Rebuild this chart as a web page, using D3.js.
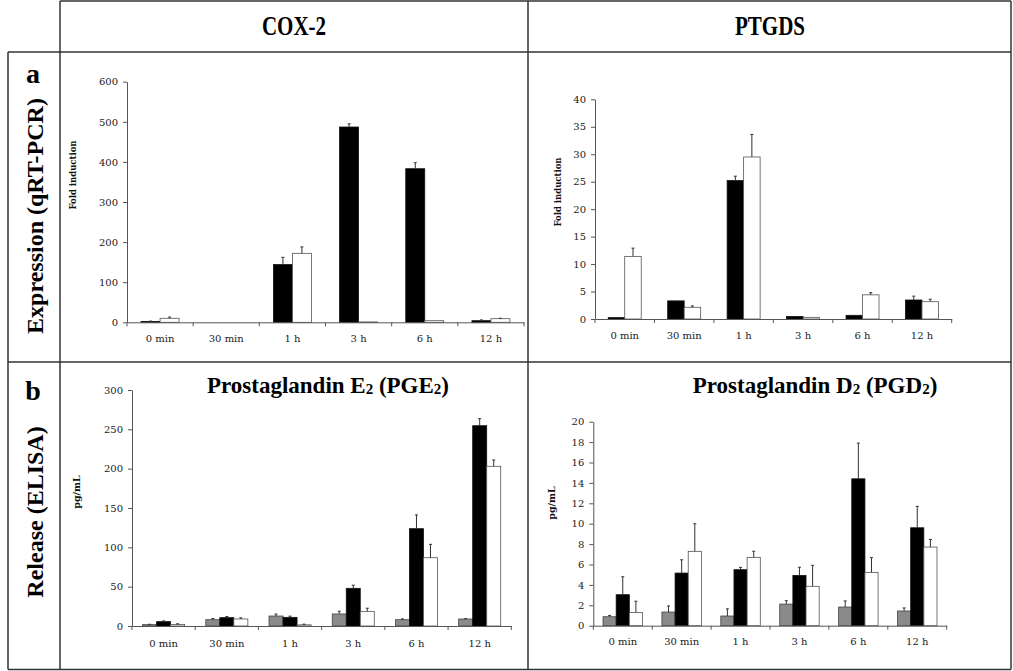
<!DOCTYPE html>
<html>
<head>
<meta charset="utf-8">
<script src="https://cdnjs.cloudflare.com/ajax/libs/d3/7.8.5/d3.min.js"></script>
<style>
  body { margin: 0; background: #fff; }
  svg { display: block; }
  .tick text { font-family: "DejaVu Serif", serif; font-size: 10px; fill: #222; }
  .big { font-family: "Liberation Serif", "Times New Roman", serif; font-weight: bold; fill: #000; }
</style>
</head>
<body>
<div id="chart"></div>
<script>
var categories = ["0 min", "30 min", "1 h", "3 h", "6 h", "12 h"];

// COX-2 qRT-PCR (fold induction)
var cox2Black = [2, 0, 144, 487, 383, 4];
var cox2BlackErr = [1, 0, 18, 8, 15, 2];
var cox2White = [10, 0, 172, 1, 4, 9];
var cox2WhiteErr = [3, 0, 16, 0, 0, 1];

// PTGDS qRT-PCR (fold induction)
var ptgdsBlack = [0.25, 3.3, 25.2, 0.45, 0.67, 3.46];
var ptgdsBlackErr = [0, 0, 0.8, 0, 0, 0.7];
var ptgdsWhite = [11.4, 2.13, 29.5, 0.3, 4.4, 3.15];
var ptgdsWhiteErr = [1.5, 0.25, 4.1, 0, 0.4, 0.45];

// PGE2 ELISA (pg/mL)
var pge2Gray = [1.7, 8, 12.7, 15.3, 8, 8.9];
var pge2GrayErr = [0.5, 1.5, 2.5, 3.5, 1, 0.5];
var pge2Black = [5.5, 10.6, 11, 47.9, 123.7, 254.6];
var pge2BlackErr = [1, 1.5, 1.5, 4, 17.5, 9];
var pge2White = [2, 8.9, 1.5, 18.6, 86.8, 203];
var pge2WhiteErr = [0.8, 1.5, 0.8, 4, 17, 8];

// PGD2 ELISA (pg/mL)
var pgd2Gray = [0.88, 1.34, 0.95, 2.12, 1.83, 1.44];
var pgd2GrayErr = [0.13, 0.6, 0.7, 0.33, 0.6, 0.3];
var pgd2Black = [3.04, 5.16, 5.49, 4.93, 14.4, 9.6];
var pgd2BlackErr = [1.76, 1.3, 0.23, 0.8, 3.5, 2.1];
var pgd2White = [1.3, 7.29, 6.7, 3.86, 5.23, 7.71];
var pgd2WhiteErr = [1.1, 2.7, 0.6, 2.06, 1.44, 0.75];

var width = 1013,
  height = 671;

var svg = d3.select("#chart")
  .append("svg")
  .attr("width", width)
  .attr("height", height);

var styles = {
  gray: { fill: "#8a8a8a", stroke: "#444" },
  black: { fill: "#000", stroke: "#111" },
  white: { fill: "#fff", stroke: "#555" }
};

// table frame
var frame = [
  [60, 1, 1011, 1],
  [8, 52, 1011, 52],
  [8, 362, 1011, 362],
  [8, 669.5, 1011, 669.5],
  [8, 52, 8, 669.5],
  [60, 1, 60, 669.5],
  [528, 1, 528, 669.5],
  [1011, 1, 1011, 669.5]
];
svg.append("g")
  .selectAll("line")
  .data(frame)
  .enter().append("line")
  .attr("x1", function(d) { return d[0]; })
  .attr("y1", function(d) { return d[1]; })
  .attr("x2", function(d) { return d[2]; })
  .attr("y2", function(d) { return d[3]; })
  .style("stroke", "#333")
  .style("stroke-width", 1.5);

// column headers (condensed look)
svg.append("text").attr("class", "big")
  .attr("transform", "translate(294,35) scale(0.75,1)")
  .attr("text-anchor", "middle")
  .style("font-size", "28px")
  .text("COX-2");
svg.append("text").attr("class", "big")
  .attr("transform", "translate(770,35) scale(0.75,1)")
  .attr("text-anchor", "middle")
  .style("font-size", "28px")
  .text("PTGDS");

// row labels
svg.append("text").attr("class", "big")
  .attr("x", 33).attr("y", 83)
  .attr("text-anchor", "middle")
  .style("font-size", "28px")
  .text("a");
svg.append("text").attr("class", "big")
  .attr("x", 33).attr("y", 400)
  .attr("text-anchor", "middle")
  .style("font-size", "28px")
  .text("b");
svg.append("text").attr("class", "big")
  .attr("transform", "translate(35,216) rotate(-90)")
  .attr("dy", "0.35em")
  .attr("text-anchor", "middle")
  .style("font-size", "24px")
  .text("Expression (qRT-PCR)");
svg.append("text").attr("class", "big")
  .attr("transform", "translate(35,512) rotate(-90)")
  .attr("dy", "0.35em")
  .attr("text-anchor", "middle")
  .style("font-size", "24px")
  .text("Release (ELISA)");

function drawTitle(cx, cy, main) {
  var t = svg.append("text").attr("class", "big")
    .attr("x", cx).attr("y", cy)
    .attr("text-anchor", "middle")
    .style("font-size", "23px");
  t.append("tspan").text("Prostaglandin " + main);
  t.append("tspan").style("font-size", "15px").attr("dy", 1).text("2");
  t.append("tspan").attr("dy", -1).text(" (PG" + main);
  t.append("tspan").style("font-size", "15px").attr("dy", 1).text("2");
  t.append("tspan").attr("dy", -1).text(")");
}

function drawPanel(cfg) {
  var g = svg.append("g");

  var x = d3.scaleBand()
    .domain(categories)
    .range([cfg.x0, cfg.x1])
    .paddingInner(cfg.pad)
    .paddingOuter(cfg.pad / 2);

  var xs = d3.scaleBand()
    .domain(d3.range(cfg.series.length))
    .range([0, x.bandwidth()]);

  var y = d3.scaleLinear()
    .domain([0, cfg.max])
    .range([cfg.y0, cfg.yTop]);

  // y axis
  var yAxis = g.append("g")
    .attr("transform", "translate(" + cfg.x0 + ",0)")
    .call(d3.axisLeft(y)
      .tickValues(d3.range(0, cfg.max + cfg.step / 2, cfg.step))
      .tickSize(4)
      .tickPadding(5)
      .tickSizeOuter(0));
  yAxis.selectAll("line, path").style("stroke", "#555");

  // bars + error bars
  cfg.series.forEach(function(s, si) {
    var rows = categories.map(function(c, i) {
      return { cat: c, value: s.values[i], err: s.err[i] };
    });
    var cx = function(d) { return x(d.cat) + xs(si) + xs.bandwidth() / 2; };

    g.append("g")
      .selectAll("rect")
      .data(rows)
      .enter().append("rect")
      .attr("x", function(d) { return x(d.cat) + xs(si); })
      .attr("y", function(d) { return y(d.value); })
      .attr("width", xs.bandwidth())
      .attr("height", function(d) { return y(0) - y(d.value); })
      .style("fill", styles[s.style].fill)
      .style("stroke", styles[s.style].stroke)
      .style("stroke-width", function(d) { return d.value > 0 ? 0.8 : 0; });

    var eb = g.append("g")
      .selectAll("g")
      .data(rows.filter(function(d) { return d.err > 0; }))
      .enter().append("g");
    eb.append("line")
      .attr("x1", cx)
      .attr("x2", cx)
      .attr("y1", function(d) { return y(d.value); })
      .attr("y2", function(d) { return y(d.value + d.err); })
      .style("stroke", "#333")
      .style("stroke-width", 1);
    eb.append("line")
      .attr("x1", function(d) { return cx(d) - 1.5; })
      .attr("x2", function(d) { return cx(d) + 1.5; })
      .attr("y1", function(d) { return y(d.value + d.err); })
      .attr("y2", function(d) { return y(d.value + d.err); })
      .style("stroke", "#333")
      .style("stroke-width", 1);
  });

  // x axis: labels centred, ticks on category boundaries
  var xAxis = g.append("g")
    .attr("transform", "translate(0," + cfg.y0 + ")")
    .call(d3.axisBottom(x).tickSize(0).tickPadding(cfg.labelPad).tickSizeOuter(0));
  xAxis.select("path").style("stroke", "#555");
  xAxis.selectAll(".tick text").attr("dy", "0.35em");

  xAxis.selectAll("line.bound")
    .data(d3.range(categories.length + 1))
    .enter().append("line")
    .attr("class", "bound")
    .attr("x1", function(i) { return cfg.x0 + i * x.step(); })
    .attr("x2", function(i) { return cfg.x0 + i * x.step(); })
    .attr("y1", 0)
    .attr("y2", 4)
    .style("stroke", "#555");

  // y label
  g.append("text")
    .attr("transform", "translate(" + cfg.labelX + "," + cfg.labelY + ") rotate(-90)")
    .attr("dy", "0.35em")
    .attr("text-anchor", "middle")
    .style("font-family", "DejaVu Serif, serif")
    .style("font-weight", "bold")
    .style("font-size", cfg.labelSize + "px")
    .style("fill", "#111")
    .text(cfg.label);
}

drawPanel({
  x0: 127, x1: 524, y0: 322.3, yTop: 81.7, max: 600, step: 100, pad: 0.426,
  labelPad: 16, label: "Fold induction", labelSize: 8.5, labelX: 73, labelY: 175,
  series: [
    { style: "black", values: cox2Black, err: cox2BlackErr },
    { style: "white", values: cox2White, err: cox2WhiteErr }
  ]
});

drawPanel({
  x0: 595, x1: 951.7, y0: 319, yTop: 99.3, max: 40, step: 5, pad: 0.445,
  labelPad: 16, label: "Fold induction", labelSize: 8.5, labelX: 558, labelY: 192,
  series: [
    { style: "black", values: ptgdsBlack, err: ptgdsBlackErr },
    { style: "white", values: ptgdsWhite, err: ptgdsWhiteErr }
  ]
});

drawPanel({
  x0: 132, x1: 511.3, y0: 626, yTop: 390, max: 300, step: 50, pad: 0.335,
  labelPad: 17, label: "pg/mL", labelSize: 9.5, labelX: 77, labelY: 492,
  series: [
    { style: "gray", values: pge2Gray, err: pge2GrayErr },
    { style: "black", values: pge2Black, err: pge2BlackErr },
    { style: "white", values: pge2White, err: pge2WhiteErr }
  ]
});

drawPanel({
  x0: 593.3, x1: 946.7, y0: 625.7, yTop: 421.7, max: 20, step: 2, pad: 0.33,
  labelPad: 15.5, label: "pg/mL", labelSize: 9.5, labelX: 552, labelY: 503,
  series: [
    { style: "gray", values: pgd2Gray, err: pgd2GrayErr },
    { style: "black", values: pgd2Black, err: pgd2BlackErr },
    { style: "white", values: pgd2White, err: pgd2WhiteErr }
  ]
});

drawTitle(328, 393, "E");
drawTitle(815, 393, "D");
</script>
</body>
</html>
